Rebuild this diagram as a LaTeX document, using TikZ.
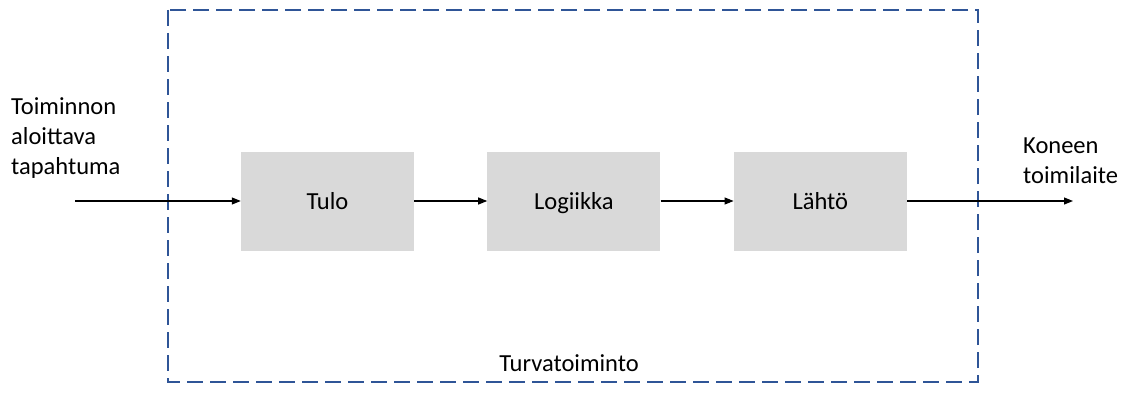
\documentclass[tikz,border=0pt]{standalone}
\usepackage{fontspec}
\setmainfont{Carlito}
\usetikzlibrary{arrows.meta,positioning}
\definecolor{frameblue}{HTML}{2F5597}
\definecolor{boxgray}{HTML}{D9D9D9}

\begin{document}
\begin{tikzpicture}[
		x=1pt, y=1pt,
		>={Triangle[length=9pt,width=7pt]},
		block/.style={fill=boxgray, minimum width=173pt, minimum height=99pt, inner sep=0pt,
			text height=20pt, text depth=4pt},
		label/.style={align=left, inner sep=0pt},
		flow/.style={->, line width=1.1pt},
		frame/.style={draw=frameblue, line width=1.3pt, dash pattern=on 16pt off 7pt}
		]
		\useasboundingbox (0,0) rectangle (1130,392);
		\tikzset{every node/.append style={font=\fontsize{24.5}{30}\selectfont}}
		
		% safety function frame
		\draw[frame] (168,382) rectangle (978,10);
		\node (turva) at (569,29) {Turvatoiminto};
		
		% blocks
		\node[block] (tulo) at (327.5,191) {Tulo};
		\node[block, right=73pt of tulo] (logiikka) {Logiikka};
		\node[block, right=73pt of logiikka] (lahto) {Lähtö};
		
		% in and out
		\coordinate (alku) at (75,191);
		\coordinate (loppu) at (1073,191);
		\node[label, anchor=west] (tapahtuma) at (11,254) {Toiminnon\\aloittava\\tapahtuma};
		\node[label, anchor=west] (toimilaite) at (1023,231) {Koneen\\toimilaite};
		
		% arrows
		\draw[flow] (alku) -- (tulo);
		\draw[flow] (tulo) -- (logiikka);
		\draw[flow] (logiikka) -- (lahto);
		\draw[flow] (lahto) -- (loppu);
		
	\end{tikzpicture}
\end{document}
